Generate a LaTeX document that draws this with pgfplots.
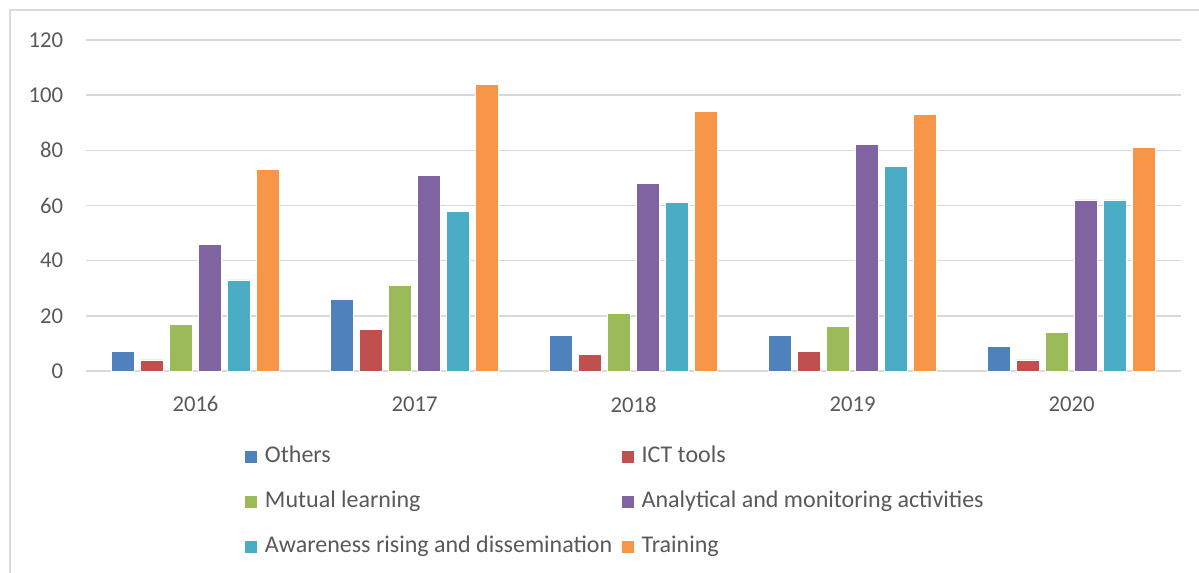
\documentclass[border=0pt]{standalone}
\usepackage{pgfplots}
\pgfplotsset{compat=1.18}
\usepackage{fontspec}
\setmainfont{Carlito}
\definecolor{txt}{HTML}{595959}
\definecolor{gridc}{HTML}{D9D9D9}
\definecolor{cA}{HTML}{4F81BD}
\definecolor{cB}{HTML}{C0504D}
\definecolor{cC}{HTML}{9BBB59}
\definecolor{cD}{HTML}{8064A2}
\definecolor{cE}{HTML}{4BACC6}
\definecolor{cF}{HTML}{F79646}
\begin{document}
\begin{tikzpicture}
\useasboundingbox (-64.5pt,-150.75pt) rectangle (834.75pt,278.25pt);
\draw[gridc, line width=1.5pt] (-57pt,-160pt) -- (-57pt,270.75pt) -- (850pt,270.75pt);
\begin{axis}[
  at={(0,0)}, anchor=south west,
  scale only axis,
  width=821.25pt, height=248.25pt,
  ybar=4.8pt, bar width=17pt,
  xmin=-0.5, xmax=4.5,
  ymin=0, ymax=120,
  xtick=data,
  xticklabels={2016,2017,2018,2019,2020},
  ytick={0,20,...,120},
  axis line style={draw=none},
  major tick length=0pt,
  ymajorgrids,
  grid style={gridc, line width=1.2pt},
  tick label style={font=\fontsize{17}{20}\selectfont, text=txt, inner sep=0pt},
  yticklabel style={xshift=-17pt},
  xticklabel style={yshift=-19pt},
  /pgf/number format/assume math mode=true,
  legend style={
    at={(0.1452,-0.2265)}, anchor=north west,
    draw=none, inner sep=0pt, outer sep=0pt,
    font=\fontsize{18}{21}\selectfont, text=txt,
    legend columns=2,
    nodes={inner sep=0pt, text height=12.5pt, text depth=4pt},
    row sep=17.25pt,
    /tikz/every odd column/.append style={column sep=6pt},
    /tikz/every even column/.append style={column sep=7pt},
  },
  legend cell align=left,
  legend image code/.code={\fill[#1,draw=none] (0pt,-4.5pt) rectangle (9pt,4.5pt);},
  every axis plot/.append style={draw=white, line width=0.6pt},
]
\addplot[fill=cA] coordinates {(0,7) (1,26) (2,13) (3,13) (4,9)};
\addlegendentry{Others}
\addplot[fill=cB] coordinates {(0,4) (1,15) (2,6) (3,7) (4,4)};
\addlegendentry{ICT tools}
\addplot[fill=cC] coordinates {(0,17) (1,31) (2,21) (3,16) (4,14)};
\addlegendentry{Mutual learning}
\addplot[fill=cD] coordinates {(0,46) (1,71) (2,68) (3,82) (4,62)};
\addlegendentry{Analytical and monitoring activities}
\addplot[fill=cE] coordinates {(0,33) (1,58) (2,61) (3,74) (4,62)};
\addlegendentry{Awareness rising and dissemination}
\addplot[fill=cF] coordinates {(0,73) (1,104) (2,94) (3,93) (4,81)};
\addlegendentry{Training}
\end{axis}
\end{tikzpicture}
\end{document}
